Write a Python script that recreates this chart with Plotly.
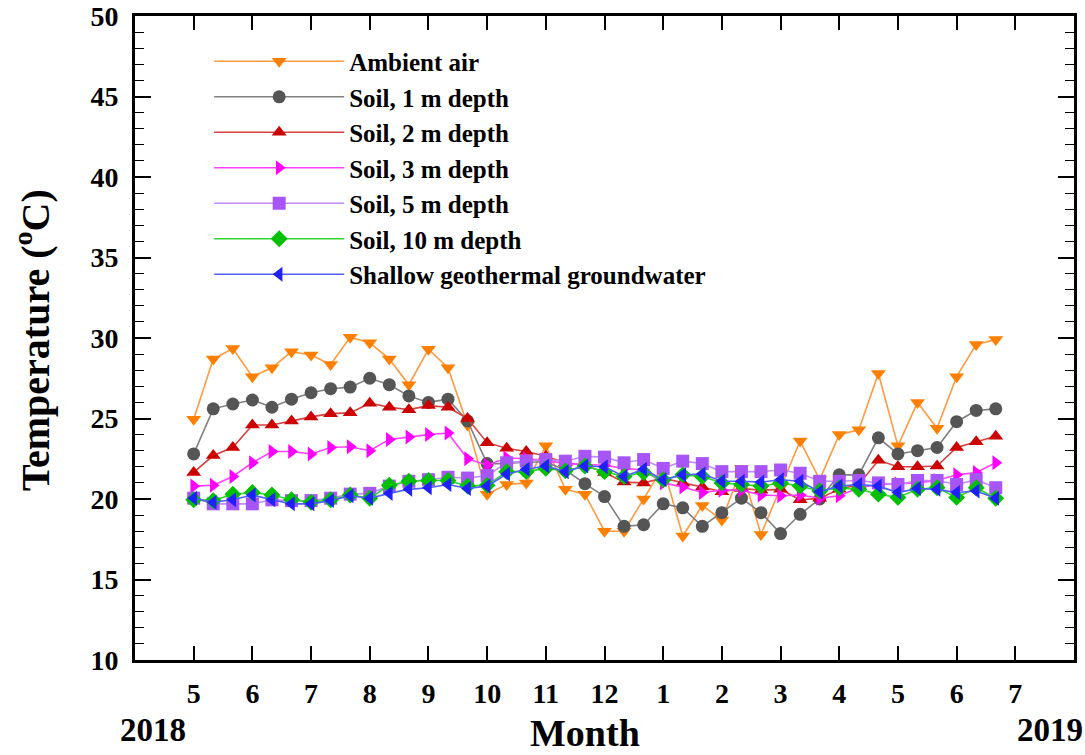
import plotly.graph_objects as go

# ---- data (dekadal readings, May 2018 - Jun 2019) ----
start_year = 2018
start_month = 5
n_months = 14
dekads = [1, 2, 3]

ambient_air = [24.95, 28.7, 29.35, 27.6, 28.15, 29.15, 28.95, 28.35, 30.05, 29.7,
               28.7, 27.1, 29.3, 28.15, 24.6, 20.3, 20.9, 21.0, 23.3, 20.6,
               20.3, 18.0, 18.0, 20.0, 22.0, 17.7, 19.6, 18.7, 21.9, 17.8,
               20.7, 23.6, 21.2, 24.0, 24.3, 27.8, 23.3, 26.0, 24.4, 27.6,
               29.6, 29.9]
soil_1m = [22.8, 25.6, 25.9, 26.15, 25.7, 26.2, 26.6, 26.85, 26.95, 27.5,
           27.1, 26.4, 26.0, 26.2, 24.85, 22.2, 22.2, 22.3, 22.3, 21.8,
           20.95, 20.15, 18.3, 18.4, 19.7, 19.45, 18.3, 19.15, 20.05, 19.15,
           17.85, 19.05, 20.0, 21.5, 21.5, 23.8, 22.8, 23.0, 23.2, 24.8,
           25.5, 25.6]
soil_2m = [21.65, 22.7, 23.2, 24.6, 24.6, 24.85, 25.1, 25.3, 25.35, 25.95,
           25.7, 25.55, 25.8, 25.7, 25.0, 23.5, 23.15, 22.95, 22.65, 22.25,
           22.1, 21.65, 21.05, 21.0, 21.3, 21.0, 20.75, 20.45, 20.65, 20.55,
           20.6, 19.95, 20.05, 20.6, 20.9, 22.4, 22.0, 22.0, 22.05, 23.2,
           23.55, 23.9]
soil_3m = [20.8, 20.85, 21.4, 22.25, 22.95, 22.95, 22.8, 23.2, 23.25, 23.0,
           23.7, 23.85, 24.0, 24.1, 22.5, 22.1, 22.55, 22.5, 22.4, 22.2,
           22.15, 22.1, 21.9, 21.8, 21.0, 20.75, 20.4, 20.55, 20.55, 20.25,
           20.2, 20.25, 20.05, 20.2, 20.7, 20.9, 20.95, 21.0, 21.15, 21.5,
           21.65, 22.25]
soil_5m = [20.05, 19.7, 19.7, 19.7, 19.95, 19.9, 19.9, 20.05, 20.3, 20.35,
           20.8, 21.1, 21.2, 21.35, 21.3, 21.45, 22.25, 22.35, 22.45, 22.35,
           22.65, 22.6, 22.25, 22.45, 21.9, 22.35, 22.2, 21.7, 21.7, 21.7,
           21.8, 21.6, 21.1, 21.1, 21.15, 21.0, 20.9, 21.15, 21.15, 20.9,
           21.2, 20.7]
soil_10m = [19.95, 19.9, 20.3, 20.4, 20.25, 19.95, 19.8, 19.95, 20.25, 20.05,
            20.85, 21.1, 21.15, 21.15, 20.8, 20.85, 21.7, 21.7, 21.9, 21.75,
            22.05, 21.7, 21.4, 21.65, 21.2, 21.5, 21.4, 21.0, 20.9, 20.8,
            21.0, 20.8, 20.5, 20.7, 20.6, 20.3, 20.1, 20.6, 20.7, 20.1,
            20.7, 20.05]
groundwater = [20.05, 19.8, 19.95, 20.25, 19.95, 19.7, 19.7, 19.9, 20.2, 20.05,
               20.35, 20.6, 20.7, 20.9, 20.65, 20.8, 21.55, 21.85, 22.05, 21.7,
               22.05, 22.0, 21.4, 21.85, 21.2, 21.5, 21.55, 21.1, 21.1, 21.05,
               21.2, 21.1, 20.45, 20.8, 20.9, 20.8, 20.4, 20.65, 20.6, 20.4,
               20.5, 20.05]

month_tick_labels = ["", "5", "6", "7", "8", "9", "10", "11", "12", "1", "2", "3", "4", "5", "6", "7", ""]
y_ticks = [10, 15, 20, 25, 30, 35, 40, 45, 50]

# x positions in months (5 = May 2018), one reading per dekad
x_pos = [start_month + m + (d - 1) / 3 for m in range(n_months) for d in dekads][:len(ambient_air)]
tick_positions = [start_month - 1 + k for k in range(len(month_tick_labels))]

FONT = "Liberation Serif, Times New Roman, serif"

series = [
    ("Ambient air", ambient_air, "triangle-down", "#FF8000", "#FF9A40"),
    ("Soil, 1 m depth", soil_1m, "circle", "#555555", "#808080"),
    ("Soil, 2 m depth", soil_2m, "triangle-up", "#CC0000", "#D94040"),
    ("Soil, 3 m depth", soil_3m, "triangle-right", "#FF00FF", "#FF40FF"),
    ("Soil, 5 m depth", soil_5m, "square", "#A855F7", "#C08CFF"),
    ("Soil, 10 m depth", soil_10m, "diamond", "#00C000", "#33D633"),
    ("Shallow geothermal groundwater", groundwater, "triangle-left", "#2020FF", "#5060FF"),
]

fig = go.Figure()
for name, vals, sym, mcol, lcol in series:
    fig.add_trace(go.Scatter(
        x=x_pos, y=vals, name=name, mode="lines+markers",
        line=dict(color=lcol, width=1.6),
        marker=dict(symbol=sym, size=13, color=mcol, line=dict(width=0)),
    ))

fig.update_layout(
    width=1085, height=755,
    margin=dict(l=135, r=11, t=16, b=95, autoexpand=False),
    plot_bgcolor="white", paper_bgcolor="white",
    font=dict(family=FONT, color="black", size=28),
    showlegend=True,
    legend=dict(
        x=0.079, y=0.965, xanchor="left", yanchor="top",
        bgcolor="rgba(0,0,0,0)", borderwidth=0,
        font=dict(family=FONT, size=25, color="black", weight="bold"),
        itemwidth=130, tracegroupgap=0,
    ),
    annotations=[
        dict(text="<b>Temperature (<sup>o</sup>C)</b>", textangle=-90,
             xref="paper", yref="paper", x=(33 - 135) / 939, y=(660 - 340) / 644,
             xanchor="center", yanchor="middle", showarrow=False,
             font=dict(family=FONT, size=40, color="black")),
        dict(text="<b>Month</b>", xref="paper", yref="paper",
             x=(585 - 135) / 939, y=(660 - 733) / 644,
             xanchor="center", yanchor="middle", showarrow=False,
             font=dict(family=FONT, size=38, color="black")),
        dict(text="<b>2018</b>", xref="paper", yref="paper",
             x=(153 - 135) / 939, y=(660 - 730) / 644,
             xanchor="center", yanchor="middle", showarrow=False,
             font=dict(family=FONT, size=33, color="black")),
        dict(text="<b>2019</b>", xref="paper", yref="paper",
             x=(1050 - 135) / 939, y=(660 - 730) / 644,
             xanchor="center", yanchor="middle", showarrow=False,
             font=dict(family=FONT, size=33, color="black")),
    ],
)

fig.update_xaxes(
    range=[tick_positions[0], tick_positions[-1]],
    tickmode="array", tickvals=tick_positions, ticktext=month_tick_labels,
    ticks="inside", ticklen=14, tickwidth=1.5, tickcolor="black",
    showline=True, linewidth=3, linecolor="black", mirror="allticks",
    showgrid=False, zeroline=False, automargin=False,
    tickfont=dict(family=FONT, size=28, color="black", weight="bold"),
    ticklabelstandoff=6,
)
fig.update_yaxes(
    range=[10, 50],
    tickmode="array", tickvals=y_ticks,
    ticks="inside", ticklen=16, tickwidth=1.5, tickcolor="black",
    minor=dict(dtick=1, ticks="inside", ticklen=9, tickwidth=1, tickcolor="black"),
    showline=True, linewidth=3, linecolor="black", mirror="allticks",
    showgrid=False, zeroline=False, automargin=False,
    tickfont=dict(family=FONT, size=28, color="black", weight="bold"),
    ticklabelstandoff=8,
)

fig.write_html("out.html")
